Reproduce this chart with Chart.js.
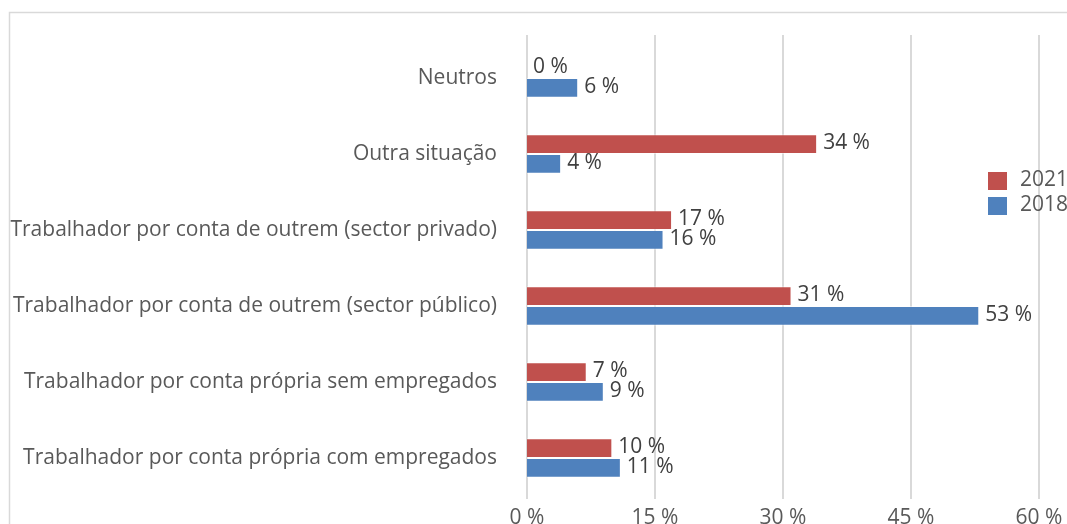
<!DOCTYPE html>
<html>
<head>
<meta charset="utf-8">
<script src="https://cdn.jsdelivr.net/npm/chart.js@4.4.0/dist/chart.umd.min.js"></script>
<style>
html,body{margin:0;padding:0;background:#fff;}
#wrap{position:relative;width:1067px;height:524px;overflow:hidden;}
</style>
</head>
<body>
<div id="wrap"><canvas id="c" width="1067" height="524"></canvas></div>
<script>
const categories = [
  "Neutros",
  "Outra situação",
  "Trabalhador por conta de outrem (sector privado)",
  "Trabalhador por conta de outrem (sector público)",
  "Trabalhador por conta própria sem empregados",
  "Trabalhador por conta própria com empregados"
];
const values2021 = [0, 34, 17, 31, 7, 10];
const values2018 = [6, 4, 16, 53, 9, 11];
const seriesLabels = ["2021", "2018"];
const tickValues = [0, 15, 30, 45, 60];

const FONT = "'Open Sans', sans-serif";
const FS = 21;

const borderPlugin = {
  id: 'frame',
  beforeDraw(chart){
    const ctx = chart.ctx;
    ctx.save();
    ctx.strokeStyle = '#d9d9d9';
    ctx.lineWidth = 1.5;
    ctx.strokeRect(9.5, 12.5, 1200, 800);
    ctx.restore();
  }
};

const gridPlugin = {
  id: 'extGrid',
  beforeDatasetsDraw(chart){
    const ctx = chart.ctx;
    const xs = chart.scales.x;
    const area = chart.chartArea;
    ctx.save();
    ctx.strokeStyle = '#d9d9d9';
    ctx.lineWidth = 2;
    xs.ticks.forEach(t => {
      const px = Math.round(xs.getPixelForValue(t.value));
      ctx.beginPath();
      ctx.moveTo(px, area.top - 5);
      ctx.lineTo(px, area.bottom + 3);
      ctx.stroke();
    });
    ctx.restore();
  }
};

const valueLabels = {
  id: 'valueLabels',
  afterDatasetsDraw(chart){
    const ctx = chart.ctx;
    ctx.save();
    ctx.font = FS + "px " + FONT;
    ctx.fillStyle = '#404040';
    ctx.textAlign = 'left';
    ctx.textBaseline = 'middle';
    chart.data.datasets.forEach((ds, di) => {
      chart.getDatasetMeta(di).data.forEach((bar, i) => {
        ctx.fillText(ds.data[i] + ' %', bar.x + 6, bar.y - 1);
      });
    });
    ctx.restore();
  }
};

const customLegend = {
  id: 'customLegend',
  afterDraw(chart){
    const ctx = chart.ctx;
    ctx.save();
    ctx.font = FS + "px " + FONT;
    ctx.textAlign = 'left';
    ctx.textBaseline = 'middle';
    chart.data.datasets.forEach((ds, di) => {
      const y = 172 + di * 25;
      ctx.fillStyle = ds.backgroundColor;
      ctx.fillRect(988, y, 19, 18);
      ctx.fillStyle = '#595959';
      ctx.fillText(ds.label, 1020, y + 8);
    });
    ctx.restore();
  }
};

new Chart(document.getElementById('c'), {
  type: 'bar',
  data: {
    labels: categories,
    datasets: [
      { label: seriesLabels[0], data: values2021, backgroundColor: '#c0504d', borderColor: 'rgba(255,255,255,0.5)', borderWidth: 1, categoryPercentage: 0.52, barPercentage: 1 },
      { label: seriesLabels[1], data: values2018, backgroundColor: '#4f81bd', borderColor: 'rgba(255,255,255,0.5)', borderWidth: 1, categoryPercentage: 0.52, barPercentage: 1 }
    ]
  },
  options: {
    indexAxis: 'y',
    responsive: false,
    animation: false,
    layout: { padding: { left: 0, right: 28, top: 40, bottom: 0 } },
    plugins: { legend: { display: false }, tooltip: { enabled: false } },
    scales: {
      x: {
        min: 0, max: 60,
        afterBuildTicks(scale){ scale.ticks = tickValues.map(v => ({ value: v })); },
        ticks: {
          callback: v => v + ' %',
          font: { family: FONT, size: FS },
          color: '#595959',
          padding: 9
        },
        grid: { display: false, drawTicks: false },
        border: { display: false },
        afterFit(scale){ scale.height = 28; scale.paddingLeft = 0; scale.paddingRight = 0; }
      },
      y: {
        ticks: {
          font: { family: FONT, size: FS },
          color: '#595959',
          padding: 30
        },
        grid: { display: false, drawTicks: false },
        border: { display: false },
        afterFit(scale){ scale.width = 527; scale.paddingTop = 0; scale.paddingBottom = 0; }
      }
    }
  },
  plugins: [borderPlugin, gridPlugin, valueLabels, customLegend]
});
</script>
</body>
</html>
